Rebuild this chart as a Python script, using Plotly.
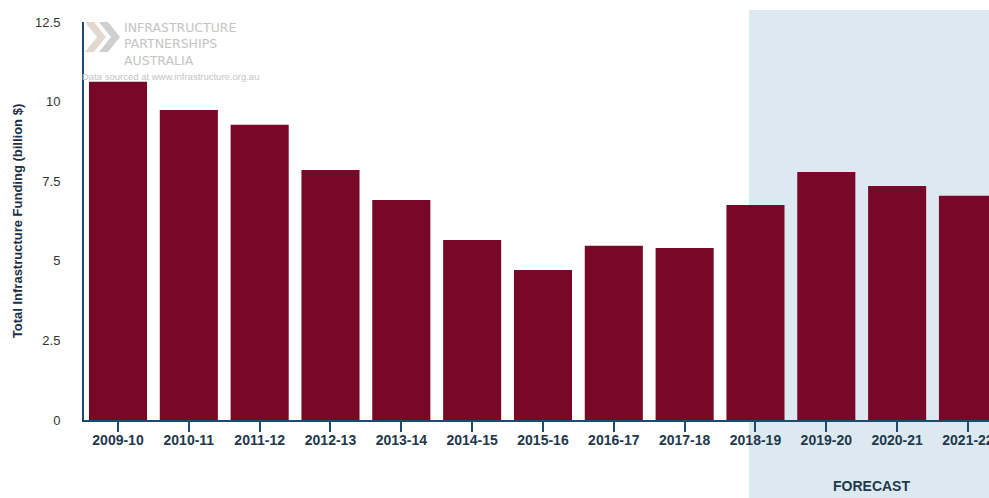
import plotly.graph_objects as go

years = ["2009-10", "2010-11", "2011-12", "2012-13", "2013-14", "2014-15", "2015-16",
         "2016-17", "2017-18", "2018-19", "2019-20", "2020-21", "2021-22"]
funding = [10.62, 9.74, 9.27, 7.85, 6.91, 5.65, 4.71, 5.47, 5.40, 6.75, 7.79, 7.35, 7.04]
y_ticks = [0, 2.5, 5, 7.5, 10, 12.5]
y_tick_text = ["0", "2.5", "5", "7.5", "10", "12.5"]

navy = "#1d4a6e"
text_col = "#22384d"

W, H = 989, 498
L, T, B = 84, 22, 78
PW, PH = W - L, H - T - B


def px(sx):
    return (sx - L) / PW


def py(sy):
    return (H - B - sy) / PH


def chevron(x0, y0, w, h, t):
    pts = [(x0, y0), (x0 + t, y0), (x0 + t + w, y0 + h / 2), (x0 + t, y0 + h), (x0, y0 + h), (x0 + w, y0 + h / 2)]
    return "M " + " L ".join(f"{px(a):.4f},{py(b):.4f}" for a, b in pts) + " Z"


fig = go.Figure()
fig.add_trace(go.Bar(x=years, y=funding, marker_color="#780827", marker_line_width=0, width=0.82))

# Forecast shaded region
fig.add_shape(type="rect", xref="paper", yref="paper", x0=px(749), x1=1.05, y0=-0.4, y1=py(10),
              fillcolor="#dde9f1", line_width=0, layer="below")
fig.add_annotation(text="<b>FORECAST</b>", xref="paper", yref="paper", x=px(871), y=py(486),
                   showarrow=False, font=dict(size=14, color=text_col), xanchor="center", yanchor="middle")

# Watermark logo
fig.add_shape(type="path", xref="paper", yref="paper", path=chevron(85, 22, 12, 30, 9),
              fillcolor="#e2d8d0", line_width=0, layer="below")
fig.add_shape(type="path", xref="paper", yref="paper", path=chevron(99, 22, 12, 30, 9),
              fillcolor="#cfcfcf", line_width=0, layer="below")
fig.add_annotation(text="INFRASTRUCTURE<br>PARTNERSHIPS<br>AUSTRALIA", xref="paper", yref="paper",
                   x=px(122), y=py(18), xanchor="left", yanchor="top", showarrow=False, align="left",
                   font=dict(size=12.5, color="#c4c4c4", family="DejaVu Sans"))
fig.add_annotation(text="Data sourced at www.infrastructure.org.au", xref="paper", yref="paper",
                   x=px(80), y=py(76), xanchor="left", yanchor="middle", showarrow=False,
                   font=dict(size=9.5, color="#c4c4c4"))

fig.update_layout(
    width=W, height=H,
    margin=dict(l=L, r=0, t=T, b=B, autoexpand=False),
    paper_bgcolor="white", plot_bgcolor="rgba(0,0,0,0)",
    showlegend=False,
    font=dict(family="Liberation Sans, Arial, sans-serif", size=12, color=text_col),
    xaxis=dict(type="category", range=[-0.48, -0.48 + PW / 70.83], showline=True, linecolor=navy, linewidth=2,
               ticks="outside", ticklen=10, tickcolor=navy, tickwidth=2, automargin=False,
               ticklabelstandoff=-4,
               tickfont=dict(size=14, color=text_col, family="Liberation Sans, Arial, sans-serif", weight="bold"),
               showgrid=False),
    yaxis=dict(range=[0, 12.5], tickvals=y_ticks, ticktext=y_tick_text, showline=True,
               linecolor=navy, linewidth=2, ticks="outside", ticklen=19, tickcolor="rgba(0,0,0,0)",
               showgrid=False, zeroline=False, tickfont=dict(size=13, color="#333333"), automargin=False,
               title=dict(text="<b>Total Infrastructure Funding (billion $)</b>",
                          font=dict(size=13, color="#1a2f45"), standoff=10)),
)

fig.write_html("out.html", config={"displayModeBar": False},
               post_script="document.body.style.margin='0';document.body.style.overflow='hidden';")
